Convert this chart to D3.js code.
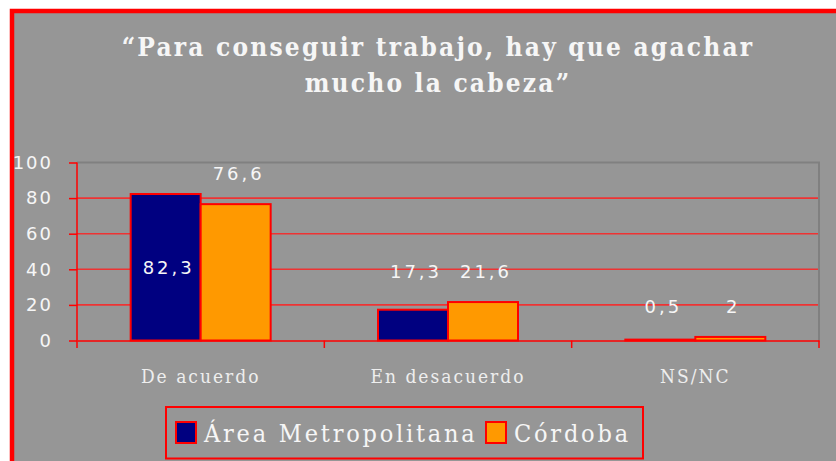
<!DOCTYPE html>
<html lang="es">
  <head>
    <meta charset="utf-8">
    <title>Para conseguir trabajo</title>
    <script src="https://cdn.jsdelivr.net/npm/d3@7/dist/d3.min.js"></script>
    <style>
      body { margin: 0; background: #ffffff; }
      svg { display: block; }
    </style>
  </head>
  <body>
    <div id="chart"></div>
    <script type="text/javascript">
      // data
      const categories = ["De acuerdo", "En desacuerdo", "NS/NC"];
      const series = ["Área Metropolitana", "Córdoba"];
      const metropolitana = [82.3, 17.3, 0.5];
      const cordoba = [76.6, 21.6, 2];
      const valueLabels = [["82,3", "17,3", "0,5"], ["76,6", "21,6", "2"]];
      const yTicks = [0, 20, 40, 60, 80, 100];
      const titleLines = ["\u201cPara conseguir trabajo, hay que agachar", "mucho la cabeza\u201d"];
      const colors = ["#000080", "#ff9900"];

      function drawChart() {
          let svgWidth = 836,
              svgHeight = 461;

          let margin = { top: 162.5, right: 17, bottom: 120.5, left: 77 },
              width = svgWidth - margin.left - margin.right,
              height = svgHeight - margin.top - margin.bottom;

          let svg = d3.select("#chart")
              .append("svg")
              .attr("width", svgWidth)
              .attr("height", svgHeight);

          // outer frame, right and bottom edges run off the picture
          svg.append("rect")
              .attr("x", 12)
              .attr("y", 11)
              .attr("width", 900)
              .attr("height", 500)
              .attr("fill", "#969696")
              .attr("stroke", "#ff0000")
              .attr("stroke-width", 4.5);

          svg.selectAll("text.title")
              .data(titleLines)
              .join("text")
              .attr("class", "title")
              .attr("x", 438)
              .attr("y", (d, i) => 56 + i * 36)
              .attr("text-anchor", "middle")
              .attr("fill", "#f6f6f6")
              .style("font-family", "'DejaVu Serif Condensed', 'DejaVu Serif', serif")
              .style("font-weight", "bold")
              .style("font-size", "26px")
              .style("letter-spacing", "2.2px")
              .text(d => d);

          let g = svg.append("g")
              .attr("transform", "translate(" + margin.left + "," + margin.top + ")");

          let x = d3.scaleBand()
              .domain(categories)
              .range([0, width]);

          let barW = 70;
          let x1 = d3.scaleBand()
              .domain(series)
              .range([0, barW * series.length]);

          let y = d3.scaleLinear()
              .domain([0, 100])
              .range([height, 0]);

          // red gridlines
          g.selectAll("line.grid")
              .data(yTicks.filter(t => t > 0 && t < 100))
              .join("line")
              .attr("class", "grid")
              .attr("x1", 0)
              .attr("x2", width)
              .attr("y1", d => y(d))
              .attr("y2", d => y(d))
              .attr("stroke", "#ee3333")
              .attr("stroke-width", 1.6);

          // grey plot frame, top and right
          g.append("path")
              .attr("d", "M0," + y(100) + "H" + width + "V" + height)
              .attr("fill", "none")
              .attr("stroke", "#808080")
              .attr("stroke-width", 2);

          // bars
          let data = [metropolitana, cordoba];
          let groups = g.selectAll("g.series")
              .data(series)
              .join("g")
              .attr("class", "series");

          groups.selectAll("rect")
              .data((s, si) => categories.map((c, ci) => ({ c: c, s: s, si: si, v: data[si][ci] })))
              .join("rect")
              .attr("x", d => x(d.c) + x.bandwidth() / 2 - barW + x1(d.s))
              .attr("y", d => y(d.v))
              .attr("width", barW)
              .attr("height", d => height - y(d.v))
              .attr("fill", d => colors[d.si])
              .attr("stroke", "#ff0000")
              .attr("stroke-width", 2);

          // y axis
          let yAxis = g.append("g")
              .call(d3.axisLeft(y).tickValues(yTicks).tickSize(8).tickPadding(16));
          yAxis.select(".domain")
              .attr("d", "M0," + y(100) + "V" + (height + 7.5))
              .attr("stroke", "#ff0000")
              .attr("stroke-width", 1.5);
          yAxis.selectAll(".tick line")
              .attr("stroke", "#ff0000")
              .attr("stroke-width", 1.5);
          yAxis.selectAll(".tick text")
              .attr("fill", "#f6f6f6")
              .style("font-family", "'DejaVu Sans', sans-serif")
              .style("font-size", "18px")
              .style("letter-spacing", "2px");

          // x axis
          let xAxis = g.append("g")
              .attr("transform", "translate(0," + height + ")")
              .call(d3.axisBottom(x).tickSize(0).tickPadding(29));
          xAxis.select(".domain")
              .attr("stroke", "#ff0000")
              .attr("stroke-width", 1.5);
          xAxis.selectAll(".tick text")
              .attr("fill", "#eeeeee")
              .style("font-family", "'DejaVu Serif Condensed', 'DejaVu Serif', serif")
              .style("font-size", "19px")
              .style("letter-spacing", "2px");
          xAxis.selectAll("line.sep")
              .data(categories)
              .join("line")
              .attr("class", "sep")
              .attr("x1", d => x(d) + x.bandwidth())
              .attr("x2", d => x(d) + x.bandwidth())
              .attr("y1", 0)
              .attr("y2", 7.5)
              .attr("stroke", "#ff0000")
              .attr("stroke-width", 1.5);

          // value labels: tall bars get theirs inside, others sit above the category's top
          let labels = [];
          categories.forEach((c, ci) => {
              let low = data.map(s => s[ci]).filter(v => v < 80);
              let top = d3.max(low);
              series.forEach((s, si) => {
                  let v = data[si][ci];
                  labels.push({
                      x: x(c) + x.bandwidth() / 2 - barW + x1(s) + barW / 2,
                      y: v >= 80 ? y(v / 2) : y(top) - 30,
                      text: valueLabels[si][ci]
                  });
              });
          });

          g.selectAll("text.val")
              .data(labels)
              .join("text")
              .attr("class", "val")
              .attr("x", d => d.x + 3)
              .attr("y", d => d.y)
              .attr("dy", "0.35em")
              .attr("text-anchor", "middle")
              .attr("fill", "#f6f6f6")
              .style("font-family", "'DejaVu Sans', sans-serif")
              .style("font-size", "18px")
              .style("letter-spacing", "3px")
              .text(d => d.text);

          // legend
          let legend = svg.append("g")
              .attr("transform", "translate(166,407)");
          legend.append("rect")
              .attr("width", 477)
              .attr("height", 51.5)
              .attr("fill", "none")
              .attr("stroke", "#ff0000")
              .attr("stroke-width", 2);

          let legendX = [10, 320];
          let items = legend.selectAll("g.item")
              .data(series)
              .join("g")
              .attr("class", "item")
              .attr("transform", (d, i) => "translate(" + legendX[i] + ",15)");
          items.append("rect")
              .attr("width", 20)
              .attr("height", 21)
              .attr("fill", (d, i) => colors[i])
              .attr("stroke", "#ff0000")
              .attr("stroke-width", 2);
          items.append("text")
              .attr("x", 28)
              .attr("y", 20)
              .attr("fill", "#f6f6f6")
              .style("font-family", "'DejaVu Serif Condensed', 'DejaVu Serif', serif")
              .style("font-size", "25px")
              .style("letter-spacing", "2.8px")
              .text(d => d);
      }

      drawChart();
    </script>
  </body>
</html>
